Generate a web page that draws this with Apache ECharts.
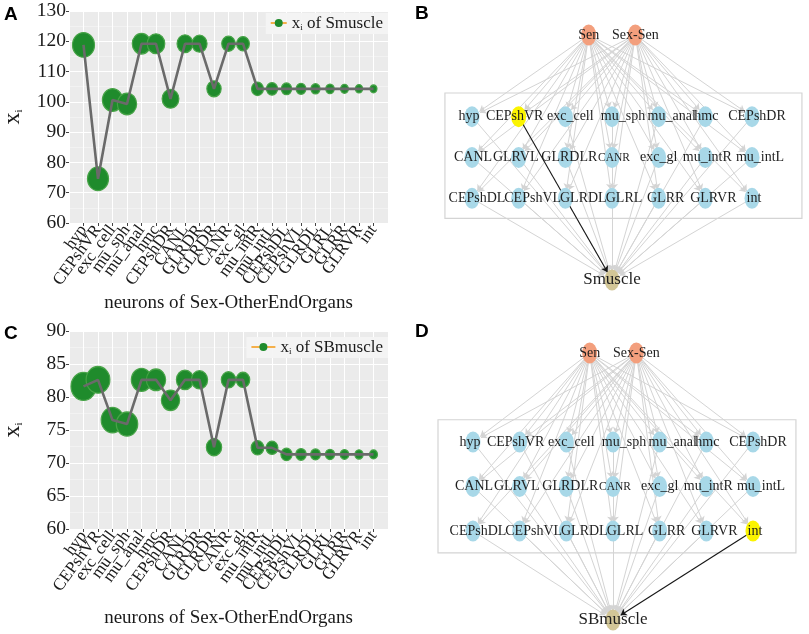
<!DOCTYPE html>
<html><head><meta charset="utf-8">
<script src="https://cdn.jsdelivr.net/npm/echarts@6/dist/echarts.min.js"></script>
<style>html,body{margin:0;padding:0;background:#fff}#c{width:809px;height:634px}</style>
</head><body><div id="c"></div>
<script>
// ---- data ----
const neurons = ['hyp','CEPshVR','exc_cell','mu_sph','mu_anal','hmc','CEPshDR','CANL','GLRDR','GLRDR','CANR','exc_gl','mu_intR','mu_intL','CEPshDL','CEPshVL','GLRDL','GLRL','GLRR','GLRVR','int'];
const xiSmuscle  = [118.8,74.6,100.6,99.3,119.2,119.2,101.0,119.2,119.2,104.3,119.2,119.2,104.3,104.3,104.3,104.3,104.3,104.3,104.3,104.3,104.3];
const xiSBmuscle = [81.6,82.6,76.5,75.9,82.6,82.6,79.5,82.6,82.6,72.4,82.6,82.6,72.3,72.3,71.3,71.3,71.3,71.3,71.3,71.3,71.3];
const yRangeA = [60, 130, 10];
const yRangeC = [60, 90, 5];
const xAxisTitle = 'neurons of Sex-OtherEndOrgans';

// network
const sourceNodes = ['Sen','Sex-Sen'];
const middleRows = [
  ['hyp','CEPshVR','exc_cell','mu_sph','mu_anal','hmc','CEPshDR'],
  ['CANL','GLRVL','GLRDLR','CANR','exc_gl','mu_intR','mu_intL'],
  ['CEPshDL','CEPshVL','GLRDL','GLRL','GLRR','GLRVR','int']
];
const netB = {sink:'Smuscle', highlight:'CEPshVR'};
const netD = {sink:'SBmuscle', highlight:'int'};

// ---- styles ----
const serif = 'Liberation Serif';
const padCats = [''].concat(neurons, ['']);
const green = '#1f8b2c', greenEdge = '#47a347', orange = '#f5b04a';
// horizontal label nudges (px) for network node labels
const labelNudge = {hyp:-3, CEPshVR:-4, exc_cell:5, mu_sph:11, mu_anal:13, hmc:1, CEPshDR:5,
  CANL:1, GLRVL:-3, GLRDLR:4, CANR:2, exc_gl:0, mu_intR:2, mu_intL:8,
  CEPshDL:5, CEPshVL:14, GLRDL:18, GLRL:12, GLRR:7, GLRVR:8, int:2};

function sizeFn(base, span, pw){
  return function(v, p){ const i = p.dataIndex; const w = base + span*Math.pow(1 - i/20, pw); return [w, w*1.12]; };
}

function xAxisCfg(gi, gap){
  return {
    type:'category', gridIndex:gi, data:padCats, boundaryGap:false,
    axisLine:{show:false},
    axisTick:{show:true, length:3, lineStyle:{color:'#444'}, interval:function(i){return i>0 && i<padCats.length-1;}},
    axisLabel:{interval:0, rotate:54, fontFamily:serif, fontSize:17, color:'#1a1a1a', margin:4},
    splitLine:{show:true, lineStyle:{color:'#ffffff', width:1.1}},
    name:xAxisTitle, nameLocation:'middle', nameGap:gap,
    nameTextStyle:{fontFamily:serif, fontSize:19, color:'#1a1a1a'}
  };
}
function yAxisCfg(gi, r){
  return {
    type:'value', gridIndex:gi, min:r[0], max:r[1], interval:r[2],
    axisLine:{show:false},
    axisTick:{show:true, length:3, lineStyle:{color:'#444'}},
    axisLabel:{fontFamily:serif, fontSize:19.5, color:'#1a1a1a', margin:3},
    splitLine:{show:true, lineStyle:{color:'#ffffff', width:1.1}},
    minorTick:{show:false, splitNumber:2},
    minorSplitLine:{show:true, lineStyle:{color:'#f6f6f6', width:0.6}},
    name:'{x|x}{s|i}', nameLocation:'middle', nameGap:44,
    nameTextStyle:{rich:{
      x:{fontFamily:serif, fontSize:24, color:'#1a1a1a', lineHeight:26, verticalAlign:'bottom'},
      s:{fontFamily:serif, fontSize:11, color:'#1a1a1a', lineHeight:12, verticalAlign:'bottom'}
    }}
  };
}

function chartSeries(gi, vals, sinkName, szFn){
  const legName = 'x_i of ' + sinkName;
  return [
    {type:'scatter', xAxisIndex:gi, yAxisIndex:gi, data:vals.map((v,i)=>[i+1,v]),
     symbol:'circle', symbolSize:szFn, itemStyle:{color:green, borderColor:greenEdge, borderWidth:1.2, opacity:1},
     silent:true, z:2},
    {type:'line', xAxisIndex:gi, yAxisIndex:gi, data:vals.map((v,i)=>[i+1,v]),
     showSymbol:false, lineStyle:{color:'#6a6a6a', width:2.6}, silent:true, z:3},
    {type:'line', name:legName, xAxisIndex:gi, yAxisIndex:gi, data:[], symbol:'circle', symbolSize:9,
     itemStyle:{color:green}, lineStyle:{color:orange, width:2}}
  ];
}

function legendCfg(sinkName, right, top, iw){
  return {
    data:[{name:'x_i of ' + sinkName}], right:right, top:top, orient:'horizontal',
    itemWidth:iw, itemHeight:10, itemGap:4, padding:[2,5,2,4],
    backgroundColor:'rgba(244,244,244,0.92)', selectedMode:false,
    formatter:function(n){ return '{x|x}{s|i}{t| of ' + n.slice(7) + '}'; },
    textStyle:{rich:{
      x:{fontFamily:serif, fontSize:17, color:'#1a1a1a', lineHeight:18, verticalAlign:'bottom'},
      s:{fontFamily:serif, fontSize:9, color:'#1a1a1a', lineHeight:9, verticalAlign:'bottom'},
      t:{fontFamily:serif, fontSize:17, color:'#1a1a1a', lineHeight:18, verticalAlign:'bottom'}
    }}
  };
}

// network graph on a hidden cartesian grid (columns / levels)
function graphSeries(gi, net){
  const nodes = [];
  sourceNodes.forEach((s,i)=>nodes.push({name:s, value:[2.5+i, 0], itemStyle:{color:'#f39f7d'}}));
  middleRows.forEach((row,r)=>row.forEach((n,c)=>{
    const nd = {name:n, value:[c, 2+r], itemStyle:{color: n===net.highlight ? '#fbf400' : '#a8d8e8'},
      label:{offset:[labelNudge[n] || 0, 0]}};
    if (n==='CANR') nd.label.fontSize = 11.5;
    nodes.push(nd);
  }));
  nodes.push({name:net.sink, value:[3, 6], itemStyle:{color:'#d2c697'}, label:{fontSize:17}});
  const links = [];
  const mids = [].concat(...middleRows);
  sourceNodes.forEach(s=>mids.forEach(m=>links.push({source:s, target:m})));
  mids.filter(m=>m!==net.highlight).forEach(m=>links.push({source:m, target:net.sink}));
  links.push({source:net.highlight, target:net.sink, lineStyle:{color:'#161616', width:1.1}});
  return {
    type:'graph', coordinateSystem:'cartesian2d', xAxisIndex:gi, yAxisIndex:gi,
    data:nodes, links:links, symbol:'circle', symbolSize:[15,21],
    edgeSymbol:['none','arrow'], edgeSymbolSize:[0,6],
    lineStyle:{color:'#d4d4d4', width:1, opacity:1, curveness:0},
    label:{show:true, position:'inside', fontFamily:serif, fontSize:14, color:'#1e1e1e'},
    emphasis:{disabled:true}, silent:true, z:3
  };
}
function frameSeries(gi, box){
  return {type:'custom', xAxisIndex:gi, yAxisIndex:gi, data:[box], silent:true, z:1,
    renderItem:function(params, api){
      const p0 = api.coord([api.value(0), api.value(1)]);
      const p1 = api.coord([api.value(2), api.value(3)]);
      return {type:'rect', shape:{x:p0[0], y:p0[1], width:p1[0]-p0[0], height:p1[1]-p0[1]},
        style:{fill:'none', stroke:'#d4d4d4', lineWidth:1.2}};
    }};
}
function hiddenAxis(gi, type){
  const a = {type:'value', gridIndex:gi, min:0, max:6, show:false, splitLine:{show:false}};
  if (type==='y') a.inverse = true;
  return a;
}

const chart = echarts.init(document.getElementById('c'));
chart.setOption({
  animation:false,
  backgroundColor:'#ffffff',
  title:[
    {text:'A', left:4, top:5, padding:0, textStyle:{fontFamily:'Liberation Sans', fontWeight:'bold', fontSize:19, color:'#000'}},
    {text:'B', left:415, top:4, padding:0, textStyle:{fontFamily:'Liberation Sans', fontWeight:'bold', fontSize:19, color:'#000'}},
    {text:'C', left:4, top:324, padding:0, textStyle:{fontFamily:'Liberation Sans', fontWeight:'bold', fontSize:19, color:'#000'}},
    {text:'D', left:415, top:322, padding:0, textStyle:{fontFamily:'Liberation Sans', fontWeight:'bold', fontSize:19, color:'#000'}}
  ],
  grid:[
    {left:68, top:11, width:320, height:212, show:true, backgroundColor:'#ebebeb', borderWidth:0},
    {left:68, top:331, width:320, height:198, show:true, backgroundColor:'#ebebeb', borderWidth:0},
    {left:472, top:35, width:280, height:245},
    {left:473, top:353, width:280, height:267}
  ],
  xAxis:[xAxisCfg(0, 71), xAxisCfg(1, 80), hiddenAxis(2,'x'), hiddenAxis(3,'x')],
  yAxis:[yAxisCfg(0, yRangeA), yAxisCfg(1, yRangeC), hiddenAxis(2,'y'), hiddenAxis(3,'y')],
  legend:[legendCfg('Smuscle', 421, 13, 16), legendCfg('SBmuscle', 421, 337, 24)],
  series:[].concat(
    chartSeries(0, xiSmuscle, 'Smuscle', sizeFn(7, 15, 1.2)),
    chartSeries(1, xiSBmuscle, 'SBmuscle', sizeFn(8, 17, 1.4)),
    [frameSeries(2, [-0.58, 1.42, 7.07, 4.49]), graphSeries(2, netB),
     frameSeries(3, [-0.75, 1.5, 6.92, 4.49]), graphSeries(3, netD)]
  )
});
</script></body></html>
